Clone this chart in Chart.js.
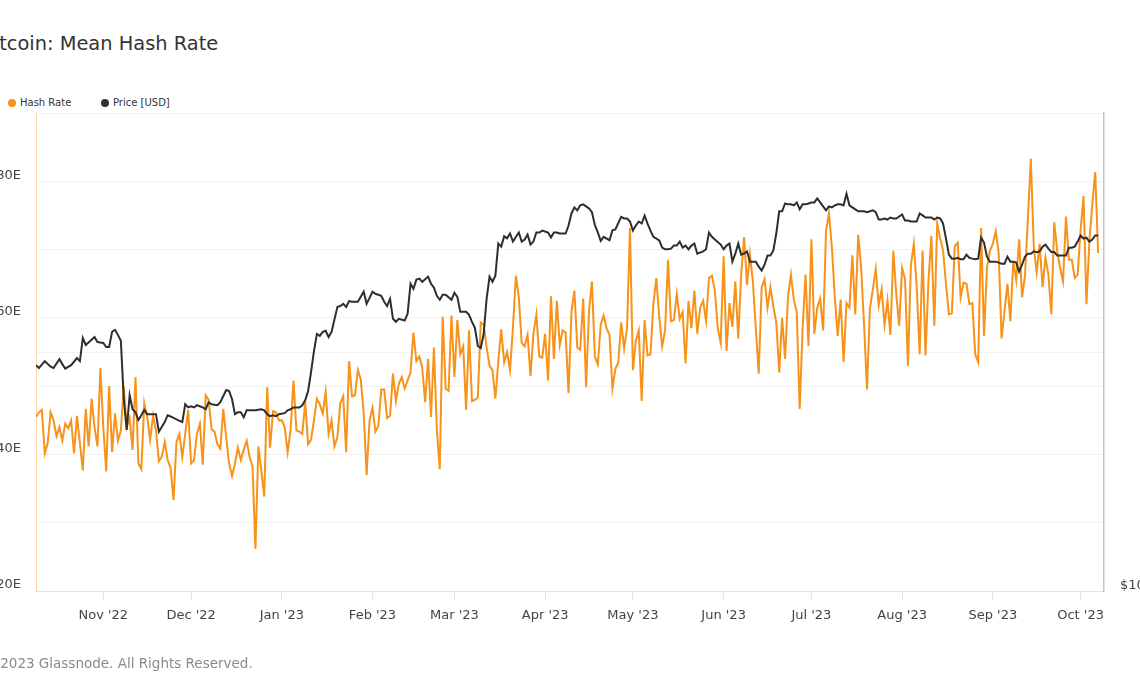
<!DOCTYPE html>
<html><head><meta charset="utf-8">
<script src="https://cdn.jsdelivr.net/npm/chart.js@4.4.0/dist/chart.umd.min.js"></script>
<style>
html,body{margin:0;padding:0;background:#fff;overflow:hidden;width:1140px;height:694px;}
body{position:relative;font-family:'DejaVu Sans',sans-serif;}
#title{position:absolute;left:-19.5px;top:34px;font-size:19.4px;line-height:20px;color:#333;white-space:nowrap;}
.leg{position:absolute;top:97px;font-size:10px;line-height:12px;color:#333;white-space:nowrap;}
.dot{position:absolute;width:8px;height:8px;border-radius:50%;top:99px;}
#footer{position:absolute;left:-17.6px;top:655px;font-size:13.5px;line-height:16px;color:#8a8a8a;white-space:nowrap;}
#wrap{position:absolute;left:-60px;top:0;width:1260px;height:694px;}
</style></head>
<body>
<div id="title">Bitcoin: Mean Hash Rate</div>
<div class="dot" style="left:8px;background:#f7931a"></div><div class="leg" style="left:20px">Hash Rate</div>
<div class="dot" style="left:101px;background:#333"></div><div class="leg" style="left:113px">Price [USD]</div>
<div id="wrap"><canvas id="c" width="1260" height="694" style="width:1260px;height:694px"></canvas></div>
<div id="footer">© 2023 Glassnode. All Rights Reserved.</div>
<script>
// Day 0 = 2022-10-09 (daily series)
const startDate = '2022-10-09';
const monthTickDates = ['2022-11-01','2022-12-01','2023-01-01','2023-02-01','2023-03-01','2023-04-01','2023-05-01','2023-06-01','2023-07-01','2023-08-01','2023-09-01','2023-10-01'];
const monthTickLabels = ["Nov '22","Dec '22","Jan '23","Feb '23","Mar '23","Apr '23","May '23","Jun '23","Jul '23","Aug '23","Sep '23","Oct '23"];
const hashLabelTicks = [120,240,360,480];
const priceGridTicks = [10000,20000];

// Mean hash rate, EH/s, one value per day from startDate
const hashRate = [
273,277,279,241,250,277,270,256,264,252,
267,263,270,241,274,250,226,280,247,289,
264,247,316,264,225,300,242,276,252,261,
300,264,272,244,308,232,227,285,273,253,
274,261,234,238,251,235,228,200,251,258,
238,258,279,232,235,258,267,231,292,288,
262,260,249,
245,280,255,232,221,232,246,235,244,252,
238,229,157,247,226,203,299,246,278,277,
270,270,264,242,261,305,261,260,258,286,
249,253,270,289,284,276,295,258,270,247,
255,285,291,242,322,291,292,314,306,276,
222,270,281,260,265,297,297,272,274,311,
287,302,
308,298,305,312,347,322,326,316,286,324,
273,334,261,227,361,298,296,362,308,358,
328,335,279,349,287,288,290,356,354,334,
318,314,289,322,350,321,330,314,351,397,
378,338,335,345,309,346,363,326,325,346,
305,379,324,375,336,349,347,294,365,384,
334,
332,377,299,366,392,326,319,354,362,351,
345,298,315,321,356,333,351,439,314,340,
349,287,358,327,328,372,395,361,335,349,
411,357,358,381,359,365,320,375,351,384,
346,369,375,357,395,397,384,351,338,414,
331,373,352,392,342,398,431,389,416,392,
351,311,
387,394,369,387,370,356,312,360,324,378,
398,376,365,280,351,398,335,429,346,369,
377,349,436,452,422,378,344,376,321,373,
369,415,363,433,404,354,297,368,385,403,
371,385,354,375,345,419,381,353,404,394,
318,406,425,387,328,419,327,392,432,353,
443,
430,419,390,363,364,423,426,378,391,390,
372,373,328,321,439,344,404,419,425,436,
417,342,366,390,357,410,393,429,378,397,
448,500,422,400,425,387,413,398,363,444,
419,404,392,449,411,411,395,398,437,467,
372,427,460,488,417
];

// Price [USD]: day index and value
const priceDay = [
0,1,3,5,6,8,9,10,12,14,15,16,17,20,21,23,24,25,26,27,28,29,30,31,32,33,34,35,36,37,38,39,41,42,44,45,46,48,50,51,52,53,54,55,57,58,59,60,62,
63,65,66,67,68,69,70,71,72,73,74,75,77,78,79,80,81,82,83,85,86,87,88,90,91,92,93,94,95,96,97,98,99,100,101,103,104,105,106,107,108,110,112,113,114,115,116,118,119,120,121,122,123,124,
126,127,128,129,130,131,132,134,135,136,137,138,139,140,142,143,144,145,146,147,148,149,150,151,152,153,154,155,156,157,158,159,160,161,162,163,165,166,167,168,169,170,171,172,173,175,176,177,178,179,181,182,183,184,185,
186,187,188,189,190,191,192,193,194,196,197,198,200,201,202,203,204,205,206,207,208,209,210,211,212,213,214,215,216,217,218,219,220,221,222,223,224,225,226,228,229,230,231,232,234,235,236,237,238,239,240,241,242,243,244,245,246,247,
248,249,250,251,252,253,254,255,256,257,258,259,260,261,262,263,264,265,266,267,268,269,270,271,272,273,274,275,276,277,278,279,280,281,282,283,284,285,286,287,288,289,290,291,292,293,294,295,296,297,298,299,300,301,302,303,304,305,306,307,308,
309,310,311,312,313,314,315,316,317,318,319,320,321,322,323,324,325,326,327,328,329,330,331,332,333,334,335,336,337,338,339,340,341,342,343,344,345,346,347,348,349,350,351,352,353,354,355,356,357,358,359,360,361,362,363
];
const priceUsd = [
19250,19090,19480,19170,19090,19590,19310,19060,19250,19650,19480,20830,20410,20890,20590,20530,20290,20290,21210,21330,21020,20660,17440,15950,17650,16940,16790,16420,16650,16910,16700,16700,16700,15870,16320,16650,16590,16450,16320,17190,17030,17080,17030,17140,17030,16940,17290,17190,17140,
17290,17910,17860,17440,16700,16790,16790,16550,16890,16890,16890,16890,16940,16890,16700,16600,16650,16600,16700,16750,16890,16940,17030,17030,17140,17390,17860,18870,20050,21080,20960,21200,21270,20890,21200,22790,22850,23000,22790,23180,23140,23140,23820,23000,23400,23820,23680,23540,23140,22850,23340,22020,21830,22020,
21910,22340,24380,24030,24670,24740,24520,24890,24380,24100,23540,23270,23610,23610,23270,23750,23470,22470,22470,22470,22270,21830,21450,20350,20230,21080,23340,24890,24520,24960,27390,27150,27980,27810,28200,27550,28280,27550,27710,28120,27310,27550,28280,28280,28440,28280,27870,28280,28280,28200,28200,28860,29890,30420,30160,
30600,30690,30510,30330,30000,28900,28300,27600,27930,27660,28460,28530,29600,29460,29460,29200,28450,28860,29200,29030,29700,29030,28440,27930,27790,27650,27070,26940,26940,26990,27230,27230,27550,27070,27230,26940,27230,27390,26600,26780,26940,28280,27930,27710,27310,26940,27230,27390,25990,26600,27390,26520,26600,26780,25990,25990,25990,25620,
25330,25760,26450,26450,26860,28200,30080,30080,30770,30690,30690,30600,30860,30250,30690,30690,30770,30860,30860,31220,30860,30510,30160,30510,30420,30600,30690,30690,30600,31640,30600,30420,30250,30080,30080,30080,30000,30080,30160,30000,29370,29370,29460,29370,29540,29460,29460,29630,29800,29280,29280,29200,29200,29200,29890,29720,29540,29540,29540,29370,29540,
29460,29030,27790,26520,26220,26220,26280,26170,26170,26520,26280,26220,26170,26220,27870,27470,26370,25990,25990,25990,25920,25840,25840,26370,25990,25990,25920,25250,25760,26370,26600,26600,26780,26720,26780,27150,27310,26990,26720,26720,26450,26450,26450,26450,27070,27070,27150,27550,28040,27790,27870,27550,27710,28040,28040
];

const dayOf = s => (Date.parse(s + 'T00:00:00Z') - Date.parse(startDate + 'T00:00:00Z')) / 86400000;
const monthTickDays = monthTickDates.map(dayOf);

Chart.defaults.font.family = "'DejaVu Sans', sans-serif";

new Chart(document.getElementById('c'), {
  type: 'line',
  data: {
    datasets: [
      { label: 'Price [USD]', data: priceDay.map((d, i) => ({ x: d, y: priceUsd[i] })), yAxisID: 'yPrice',
        borderColor: '#2e2e2e', borderWidth: 2, pointRadius: 0, tension: 0, fill: false, order: 0 },
      { label: 'Hash Rate', data: hashRate.map((v, i) => ({ x: i, y: v })), yAxisID: 'yHash',
        borderColor: '#f7931a', borderWidth: 2, pointRadius: 0, tension: 0, fill: false, order: 1 }
    ]
  },
  options: {
    responsive: false, animation: false, devicePixelRatio: 1,
    layout: { padding: { top: 113, left: 0, right: 0, bottom: 0 } },
    plugins: { legend: { display: false }, tooltip: { enabled: false }, title: { display: false } },
    scales: {
      x: {
        type: 'linear', min: 0, max: 365,
        afterBuildTicks: s => { s.ticks = monthTickDays.map(v => ({ value: v })); },
        ticks: { autoSkip: false, maxRotation: 0, padding: 8, color: '#444', font: { size: 13 },
          callback: v => { const i = monthTickDays.indexOf(v); return i >= 0 ? monthTickLabels[i] : ''; } },
        grid: { drawOnChartArea: false, drawTicks: true, tickLength: 9, color: '#e6e6e6' },
        border: { color: '#e3e3e3' },
        afterFit: s => { s.height = 103; }
      },
      yHash: {
        type: 'linear', position: 'left', min: 120, max: 540,
        ticks: { stepSize: 60, padding: 15, labelOffset: -6, color: '#444', font: { size: 13 },
          callback: v => hashLabelTicks.includes(v) ? v + 'E' : '' },
        grid: { color: '#f1f1f1', drawTicks: false },
        border: { color: 'rgba(247,147,26,0.35)' },
        afterFit: s => { s.width = 96; }
      },
      yPrice: {
        type: 'logarithmic', position: 'right', min: 10000, max: 40000,
        afterBuildTicks: s => { s.ticks = priceGridTicks.map(v => ({ value: v })); },
        ticks: { padding: 16, labelOffset: -5, color: '#444', font: { size: 13 },
          callback: v => v === 10000 ? '$10k' : '' },
        grid: { color: '#f1f1f1', drawTicks: false },
        border: { color: '#c4c4c4', width: 1.5 },
        afterFit: s => { s.width = 96; }
      }
    }
  }
});
</script>
</body></html>
